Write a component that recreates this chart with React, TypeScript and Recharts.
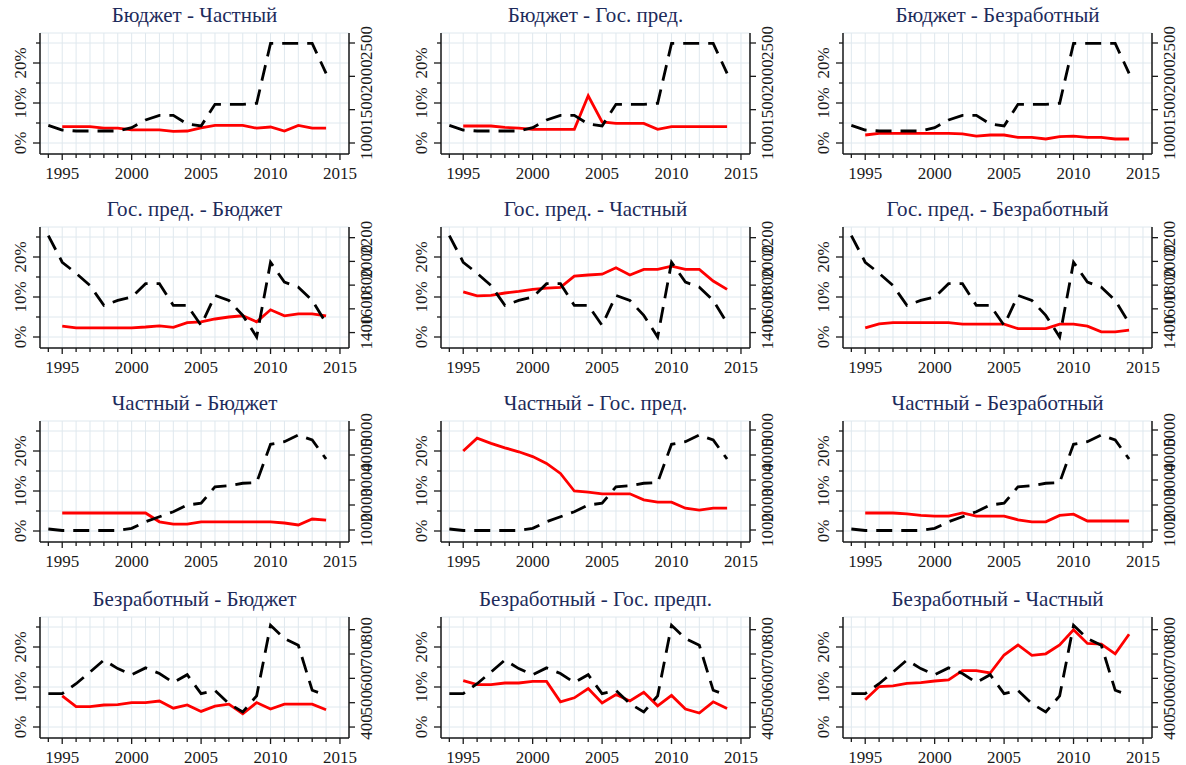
import { LineChart, Line, XAxis, YAxis, CartesianGrid } from 'recharts';

// years of the count series (black); rates (red) start in 1995
const years = [1994, 1995, 1996, 1997, 1998, 1999, 2000, 2001, 2002, 2003, 2004, 2005, 2006, 2007, 2008, 2009, 2010, 2011, 2012, 2013, 2014];
const xTicks = [1994, 1995, 1996, 1997, 1998, 1999, 2000, 2001, 2002, 2003, 2004, 2005, 2006, 2007, 2008, 2009, 2010, 2011, 2012, 2013, 2014, 2015];
const pctTicks = [0, 5, 10, 15, 20, 25];

// counts of the origin group (right axis)
const countBudget = [1265, 1195, 1180, 1180, 1180, 1180, 1230, 1345, 1415, 1415, 1285, 1255, 1580, 1580, 1580, 1595, 2495, 2495, 2495, 2495, 2045];
const countState = [2218, 1993, 1900, 1797, 1629, 1671, 1699, 1812, 1812, 1629, 1629, 1461, 1713, 1671, 1545, 1363, 1993, 1825, 1783, 1671, 1481];
const countPrivate = [1040, 980, 980, 980, 980, 980, 1065, 1330, 1530, 1730, 2000, 2070, 2730, 2770, 2870, 2900, 4430, 4530, 4800, 4600, 3840];
const countUnemp = [537, 537, 578, 626, 675, 640, 615, 643, 620, 583, 615, 537, 550, 496, 462, 528, 818, 764, 736, 551, 530];

// transition rates, % (left axis), 1995-2014
const rBudPriv = [4.1, 4.1, 4.1, 3.7, 3.7, 3.3, 3.3, 3.3, 2.9, 3.0, 3.8, 4.4, 4.4, 4.4, 3.7, 4.0, 3.0, 4.4, 3.7, 3.7];
const rBudState = [4.25, 4.25, 4.25, 3.9, 3.7, 3.4, 3.4, 3.4, 3.4, 11.8, 5.25, 4.9, 4.9, 4.9, 3.4, 4.1, 4.1, 4.1, 4.1, 4.1];
const rBudUnemp = [2.0, 2.4, 2.4, 2.4, 2.4, 2.4, 2.4, 2.3, 1.7, 2.0, 2.0, 1.4, 1.4, 1.0, 1.6, 1.7, 1.4, 1.4, 1.0, 1.0];
const rStateBud = [2.7, 2.3, 2.3, 2.3, 2.3, 2.3, 2.5, 2.8, 2.4, 3.6, 3.8, 4.5, 5.0, 5.3, 3.8, 6.8, 5.3, 5.8, 5.8, 5.3];
const rStatePriv = [11.3, 10.3, 10.4, 11.0, 11.4, 11.9, 12.2, 12.4, 15.2, 15.5, 15.7, 17.3, 15.5, 16.9, 16.9, 17.7, 16.9, 16.9, 14.0, 11.9];
const rStateUnemp = [2.3, 3.3, 3.6, 3.6, 3.6, 3.6, 3.6, 3.2, 3.2, 3.2, 3.2, 2.1, 2.1, 2.1, 3.2, 3.2, 2.7, 1.3, 1.3, 1.7];
const rPrivBud = [4.5, 4.5, 4.5, 4.5, 4.5, 4.5, 4.5, 2.3, 1.7, 1.7, 2.3, 2.3, 2.3, 2.3, 2.3, 2.3, 2.0, 1.5, 3.0, 2.7];
const rPrivState = [20.0, 23.2, 21.9, 20.8, 19.8, 18.6, 16.9, 14.4, 10.0, 9.7, 9.3, 9.3, 9.3, 7.8, 7.2, 7.2, 5.7, 5.2, 5.7, 5.7];
const rPrivUnemp = [4.5, 4.5, 4.5, 4.3, 3.9, 3.7, 3.7, 4.5, 3.7, 3.7, 3.7, 2.8, 2.3, 2.3, 3.9, 4.2, 2.5, 2.5, 2.5, 2.5];
const rUnempBud = [7.8, 5.1, 5.1, 5.5, 5.6, 6.1, 6.1, 6.5, 4.7, 5.5, 3.9, 5.2, 5.7, 3.3, 6.1, 4.5, 5.7, 5.7, 5.7, 4.3];
const rUnempState = [11.6, 10.6, 10.6, 11.0, 11.0, 11.4, 11.4, 6.3, 7.3, 9.6, 6.0, 8.1, 6.5, 8.7, 5.3, 7.9, 4.5, 3.5, 6.3, 4.6];
const rUnempPriv = [6.8, 10.1, 10.3, 10.9, 11.1, 11.5, 11.8, 14.1, 14.1, 13.5, 18.0, 20.5, 17.9, 18.3, 20.5, 24.3, 20.9, 20.7, 18.3, 23.2];

// right axis per row
const rowCounts = [countBudget, countState, countPrivate, countUnemp];
const rowRightTicks = [
  [1000, 1500, 2000, 2500],
  [1400, 1600, 1800, 2000, 2200],
  [1000, 2000, 3000, 4000, 5000],
  [400, 500, 600, 700, 800],
];
const rowRightDomain = [
  [835, 2650],
  [1270, 2290],
  [520, 5360],
  [355, 852],
];

const titles = [
  ['Бюджет - Частный', 'Бюджет - Гос. пред.', 'Бюджет - Безработный'],
  ['Гос. пред. - Бюджет', 'Гос. пред. - Частный', 'Гос. пред. - Безработный'],
  ['Частный - Бюджет', 'Частный - Гос. пред.', 'Частный - Безработный'],
  ['Безработный - Бюджет', 'Безработный - Гос. предп.', 'Безработный - Частный'],
];
const rates = [
  [rBudPriv, rBudState, rBudUnemp],
  [rStateBud, rStatePriv, rStateUnemp],
  [rPrivBud, rPrivState, rPrivUnemp],
  [rUnempBud, rUnempState, rUnempPriv],
];

const FONT = '"Liberation Serif", "DejaVu Serif", serif';
const INK = '#1a1a1a';
const W = 401;
const H = 194;
const PLOT_L = 40;
const PLOT_R = 349;
const PLOT_B = 154;
const colX = [0, 401, 803];
const rowY = [0, 194, 388, 584];
const labelStyle = { fontFamily: FONT, fontSize: 17 };

const XTick = (p: any) => {
  const v = p.payload.value;
  const major = v % 5 === 0;
  return (
    <g>
      <line x1={p.x} x2={p.x} y1={PLOT_B} y2={PLOT_B + (major ? 6 : 4)} stroke={INK} strokeWidth={1.3} />
      {major && (
        <text x={p.x} y={173} textAnchor="middle" dominantBaseline="central" style={labelStyle} fill={INK}>
          {v}
        </text>
      )}
    </g>
  );
};

const LTick = (p: any) => {
  const v = p.payload.value;
  const major = v % 10 === 0;
  return (
    <g>
      <line x1={PLOT_L} x2={PLOT_L - (major ? 7 : 4)} y1={p.y} y2={p.y} stroke={INK} strokeWidth={1.3} />
      {major && (
        <text transform={`translate(20,${p.y}) rotate(-90)`} textAnchor="middle" dominantBaseline="central" style={labelStyle} fill={INK}>
          {`${v}%`}
        </text>
      )}
    </g>
  );
};

const RTick = (p: any) => (
  <g>
    <line x1={PLOT_R} x2={PLOT_R + 6} y1={p.y} y2={p.y} stroke={INK} strokeWidth={1.3} />
    <text transform={`translate(366,${p.y}) rotate(-90)`} textAnchor="middle" dominantBaseline="central" style={labelStyle} fill={INK}>
      {p.payload.value}
    </text>
  </g>
);

function Panel({ row, col }: { row: number; col: number }) {
  const red = rates[row][col];
  const black = rowCounts[row];
  const data = years.map((y, i) => ({ year: y, cnt: black[i], rate: i === 0 ? null : red[i - 1] }));
  const axisLine = { stroke: INK, strokeWidth: 1.5 };
  return (
    <div style={{ position: 'absolute', left: colX[col], top: rowY[row], width: W, height: H }}>
      <div
        style={{
          position: 'absolute',
          left: PLOT_L - 20,
          width: PLOT_R - PLOT_L + 40,
          top: 2,
          textAlign: 'center',
          fontFamily: FONT,
          fontSize: 21,
          lineHeight: '26px',
          color: '#1d2b5b',
          whiteSpace: 'nowrap',
        }}
      >
        {titles[row][col]}
      </div>
      <LineChart width={W} height={H} data={data} margin={{ top: 33, right: 0, bottom: 0, left: 0 }}>
        <CartesianGrid stroke="#dfe8ee" strokeWidth={1} />
        <XAxis
          dataKey="year"
          type="number"
          domain={[1993.4, 2015.65]}
          ticks={xTicks}
          interval={0}
          height={H - PLOT_B}
          tick={XTick}
          tickLine={false}
          axisLine={axisLine}
        />
        <YAxis
          orientation="left"
          width={PLOT_L}
          domain={[-2.75, 27.5]}
          ticks={pctTicks}
          interval={0}
          tick={LTick}
          tickLine={false}
          axisLine={axisLine}
          allowDataOverflow
        />
        <YAxis
          yAxisId="r"
          orientation="right"
          width={W - PLOT_R}
          domain={rowRightDomain[row]}
          ticks={rowRightTicks[row]}
          interval={0}
          tick={RTick}
          tickLine={false}
          axisLine={axisLine}
          allowDataOverflow
        />
        <Line dataKey="rate" type="linear" stroke="#ff0000" strokeWidth={2.8} dot={false} isAnimationActive={false} />
        <Line
          yAxisId="r"
          dataKey="cnt"
          type="linear"
          stroke="#000000"
          strokeWidth={2.8}
          strokeDasharray="16 9"
          dot={false}
          isAnimationActive={false}
        />
      </LineChart>
    </div>
  );
}

export default function App() {
  return (
    <div style={{ position: 'absolute', left: 0, top: 0, width: 1186, height: 765, background: '#fff', overflow: 'hidden' }}>
      {[0, 1, 2, 3].map((r) => [0, 1, 2].map((c) => <Panel key={`${r}-${c}`} row={r} col={c} />))}
    </div>
  );
}
